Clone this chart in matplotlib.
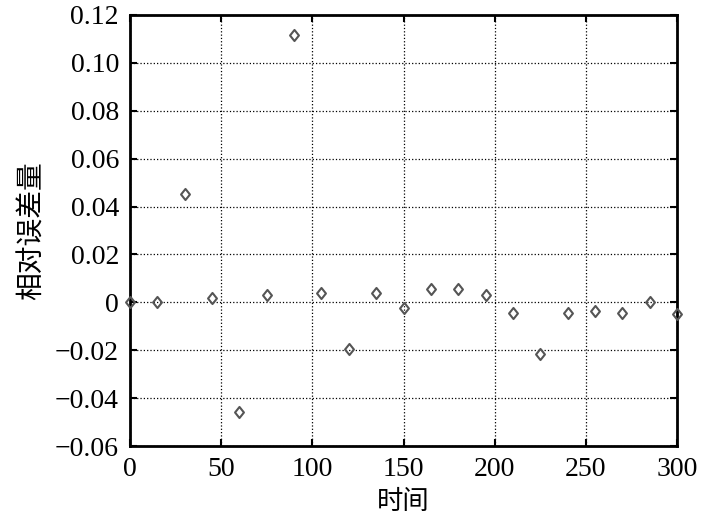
import matplotlib
matplotlib.use('Agg')
import matplotlib.pyplot as plt
from matplotlib.path import Path
import numpy as np

t = [0, 15, 30, 45, 60, 75, 90, 105, 120, 135, 150,
     165, 180, 195, 210, 225, 240, 255, 270, 285, 300]
err = [0.0, 0.0002, 0.0454, 0.002, -0.0457, 0.0029, 0.1118, 0.0039, -0.0194, 0.0039, -0.0025,
       0.0056, 0.0056, 0.0029, -0.0045, -0.0216, -0.0045, -0.0038, -0.0045, 0.0002, -0.0049]
xticks = [0, 50, 100, 150, 200, 250, 300]
yticks = [-0.06, -0.04, -0.02, 0, 0.02, 0.04, 0.06, 0.08, 0.10, 0.12]
ylabels = ['\u22120.06', '\u22120.04', '\u22120.02', '0', '0.02', '0.04', '0.06', '0.08', '0.10', '0.12']

plt.rcParams['font.family'] = ['Liberation Serif', 'Noto Sans CJK SC']

# slightly tall diamond, like the original markers
diamond = Path([(0, 1), (0.8, 0), (0, -1), (-0.8, 0), (0, 1)],
               [Path.MOVETO, Path.LINETO, Path.LINETO, Path.LINETO, Path.CLOSEPOLY])

fig = plt.figure(figsize = (7.09, 5.2), dpi = 100)
ax = fig.add_axes([0.1834, 0.1423, 0.9549 - 0.1834, 0.9712 - 0.1423])
ax.plot(t, err, linestyle = 'none', marker = diamond, markersize = 8,
        markerfacecolor = 'none', markeredgecolor = '#555555', markeredgewidth = 1.5,
        clip_on = False, zorder = 5)
ax.set_xlim(0, 300)
ax.set_ylim(-0.06, 0.12)
ax.set_xticks(xticks)
ax.set_xticklabels([str(v) for v in xticks])
ax.set_yticks(yticks)
ax.set_yticklabels(ylabels)
ax.grid(True, linestyle = ':', color = 'black', linewidth = 0.9)
ax.tick_params(direction = 'in', top = True, right = True, length = 5, width = 1.5,
               labelsize = 20)
ax.tick_params(axis = 'y', pad = 8)
ax.tick_params(axis = 'x', pad = 8)
for s in ax.spines.values():
    s.set_linewidth(2)
ax.set_xlabel('时间', fontsize = 19, family = 'Noto Sans CJK SC', labelpad = 4)
ax.set_ylabel('相对误差量', fontsize = 20, family = 'Noto Sans CJK SC', labelpad = 6)
fig.savefig('out.png', dpi = 100)
